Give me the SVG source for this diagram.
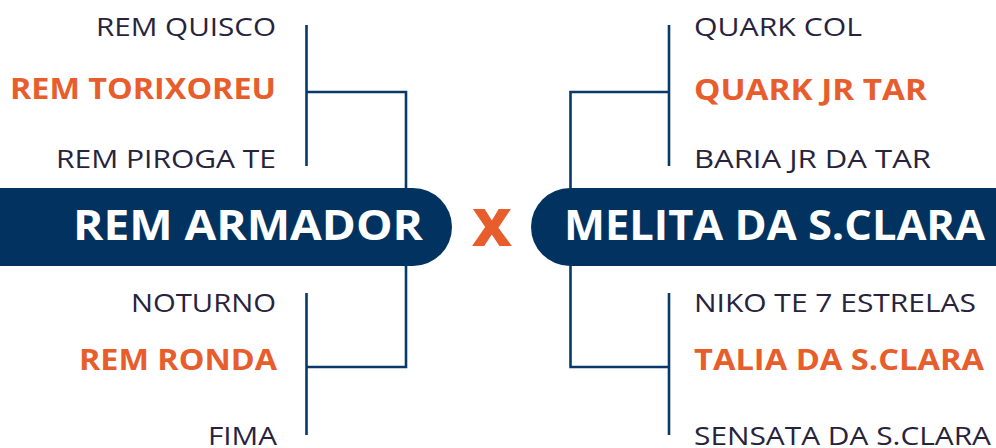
<svg xmlns="http://www.w3.org/2000/svg" width="996" height="448" viewBox="0 0 996 448">
<style>
.t{font-family:"Open Sans","Liberation Sans",sans-serif;font-size:26px;fill:#28233d}
.w{font-weight:700;fill:#e75d2c;font-size:28.5px}
.b{font-family:"Open Sans","Liberation Sans",sans-serif;font-weight:700;font-size:42px;fill:#ffffff}
.bar{fill:#023360}
.ln{fill:none;stroke:#073a68;stroke-width:2.6}
.l{text-anchor:end}
</style>
<rect width="996" height="448" fill="#ffffff"/>
<g id="connectors">
<path class="ln" d="M306.5 25V166M306.5 92H406V188"/>
<path class="ln" d="M306.5 293V435M306.5 367H406V266"/>
<path class="ln" d="M669 25V166M669 92H570.5V188"/>
<path class="ln" d="M669 293V435M669 367H570.5V266"/>
</g>
<g id="home">
<path class="bar" d="M0 188H413A39 39 0 0 1 413 266H0Z"/>
<text class="b" x="73" y="240" textLength="350" lengthAdjust="spacingAndGlyphs">REM ARMADOR</text>
</g>
<g id="versus">
<text x="492" y="246" text-anchor="middle" font-family="'Open Sans','Liberation Sans',sans-serif" font-weight="800" font-size="52" fill="#e75d2c" textLength="40" lengthAdjust="spacingAndGlyphs">X</text>
</g>
<g id="away">
<path class="bar" d="M996 188H570A39 39 0 0 0 570 266H996Z"/>
<text class="b" x="564" y="240" textLength="421" lengthAdjust="spacingAndGlyphs">MELITA DA S.CLARA</text>
</g>
<g id="left-top">
<text class="t l" x="276" y="36" textLength="180" lengthAdjust="spacingAndGlyphs">REM QUISCO</text>
<text class="t w l" x="276" y="99" textLength="266" lengthAdjust="spacingAndGlyphs">REM TORIXOREU</text>
<text class="t l" x="276" y="168" textLength="220" lengthAdjust="spacingAndGlyphs">REM PIROGA TE</text>
</g>
<g id="left-bottom">
<text class="t l" x="276" y="312" textLength="145" lengthAdjust="spacingAndGlyphs">NOTURNO</text>
<text class="t w l" x="277" y="370" textLength="198" lengthAdjust="spacingAndGlyphs">REM RONDA</text>
<text class="t l" x="277" y="445" textLength="69" lengthAdjust="spacingAndGlyphs">FIMA</text>
</g>
<g id="right-top">
<text class="t" x="694" y="36" textLength="168" lengthAdjust="spacingAndGlyphs">QUARK COL</text>
<text class="t w" x="694" y="100" textLength="233" lengthAdjust="spacingAndGlyphs">QUARK JR TAR</text>
<text class="t" x="694" y="168" textLength="237" lengthAdjust="spacingAndGlyphs">BARIA JR DA TAR</text>
</g>
<g id="right-bottom">
<text class="t" x="694" y="312" textLength="282" lengthAdjust="spacingAndGlyphs">NIKO TE 7 ESTRELAS</text>
<text class="t w" x="694" y="370" textLength="290" lengthAdjust="spacingAndGlyphs">TALIA DA S.CLARA</text>
<text class="t" x="694" y="445" textLength="297" lengthAdjust="spacingAndGlyphs">SENSATA DA S.CLARA</text>
</g>
</svg>
